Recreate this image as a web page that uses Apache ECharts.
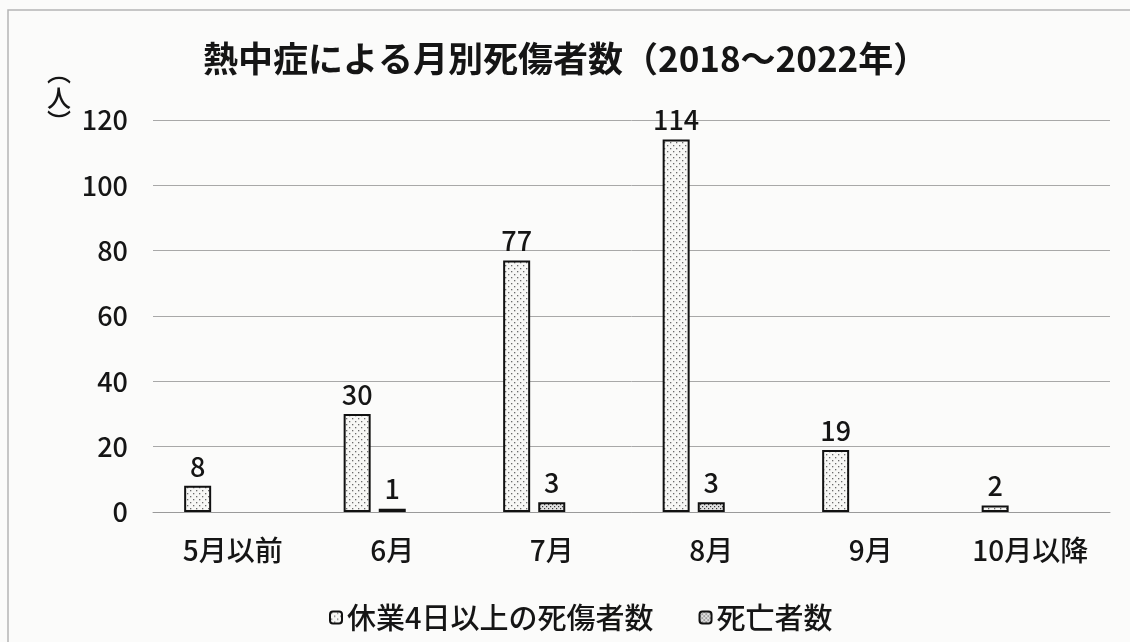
<!DOCTYPE html>
<html>
<head>
<meta charset="utf-8">
<script src="https://cdn.jsdelivr.net/npm/echarts@6/dist/echarts.min.js"></script>
<style>
html,body{margin:0;padding:0;background:#fbfbfa;}
#c{width:1130px;height:642px;}
</style>
</head>
<body>
<div id="c"></div>
<script>
const categories = ['5月以前', '6月', '7月', '8月', '9月', '10月以降'];
const injuries = [8, 30, 77, 114, 19, 2];
const deaths = [0, 1, 3, 3, 0, 0];
const seriesNames = ['休業4日以上の死傷者数', '死亡者数'];
const yMin = 0, yMax = 120, yStep = 20;
const titleText = '熱中症による月別死傷者数（2018～2022年）';
const unitParts = ['︵', '人', '︶'];

const FONT = '"Noto Sans CJK JP",sans-serif';
const TXT = '#151515';

function makePattern(size, bg, dots, dotColor, r) {
  const c = document.createElement('canvas');
  c.width = size; c.height = size;
  const g = c.getContext('2d');
  g.fillStyle = bg; g.fillRect(0, 0, size, size);
  g.fillStyle = dotColor;
  dots.forEach(d => { g.fillRect(d[0], d[1], r, r); });
  return c;
}
const pat1 = makePattern(6, '#f7f7f5', [[1, 1], [4, 4]], '#6a6a6a', 1.3);
const pat2 = makePattern(4, '#e2e2e2', [[0, 0], [2, 2]], '#3a3a3a', 1.2);

const chart = echarts.init(document.getElementById('c'));
const hideZero = p => (p.value ? String(p.value) : '');
const labelCfg = {
  show: true, position: 'top', distance: 6, color: TXT,
  fontFamily: FONT, fontSize: 27, fontWeight: 500, formatter: hideZero
};
const unitStyle = { fontFamily: FONT, fontSize: 24, fontWeight: 500, lineHeight: 24, color: TXT };

chart.setOption({
  backgroundColor: '#fbfbfa',
  animation: false,
  title: [
    { text: titleText, left: 198, top: 36,
      textStyle: { fontFamily: FONT, fontSize: 35, fontWeight: 'bold', color: TXT } },
    { text: unitParts[0], left: 47, top: 60, padding: 0, textStyle: unitStyle },
    { text: unitParts[1], left: 47, top: 86, padding: 0, textStyle: unitStyle },
    { text: unitParts[2], left: 47, top: 110, padding: 0, textStyle: unitStyle }
  ],
  graphic: [
    { type: 'rect', z: -1, shape: { x: 8, y: 10, width: 1140, height: 660 },
      style: { fill: 'none', stroke: '#b5b5b5', lineWidth: 1.5 } }
  ],
  legend: {
    data: seriesNames, left: 324, top: 598,
    itemWidth: 12, itemHeight: 12, itemGap: 45,
    textStyle: { fontFamily: FONT, fontSize: 29, fontWeight: 500, color: TXT }
  },
  grid: { left: 153, right: 20, top: 120, bottom: 130, containLabel: false },
  xAxis: {
    type: 'category', data: categories,
    axisLine: { lineStyle: { color: '#9a9a9a', width: 1 } },
    axisTick: { show: false },
    axisLabel: { fontFamily: FONT, fontSize: 28, fontWeight: 500, color: TXT, margin: 24, interval: 0 }
  },
  yAxis: {
    type: 'value', min: yMin, max: yMax, interval: yStep,
    axisLine: { show: false }, axisTick: { show: false },
    splitLine: { lineStyle: { color: '#a8a8a8', width: 1 } },
    axisLabel: { fontFamily: FONT, fontSize: 27, fontWeight: 500, color: TXT, margin: 25 }
  },
  series: [
    { name: seriesNames[0], type: 'bar', data: injuries, barWidth: 27, barGap: '30%',
      itemStyle: { color: { image: pat1, repeat: 'repeat' }, borderColor: '#111', borderWidth: 2 },
      label: labelCfg },
    { name: seriesNames[1], type: 'bar', data: deaths.map(v => (v === 0 ? '-' : v)), barWidth: 27, barGap: '30%',
      itemStyle: { color: { image: pat2, repeat: 'repeat' }, borderColor: '#111', borderWidth: 2 },
      label: labelCfg },
    { name: '_spacer', type: 'bar', data: categories.map(() => '-'), barWidth: 27, barGap: '30%' }
  ]
});
</script>
</body>
</html>
